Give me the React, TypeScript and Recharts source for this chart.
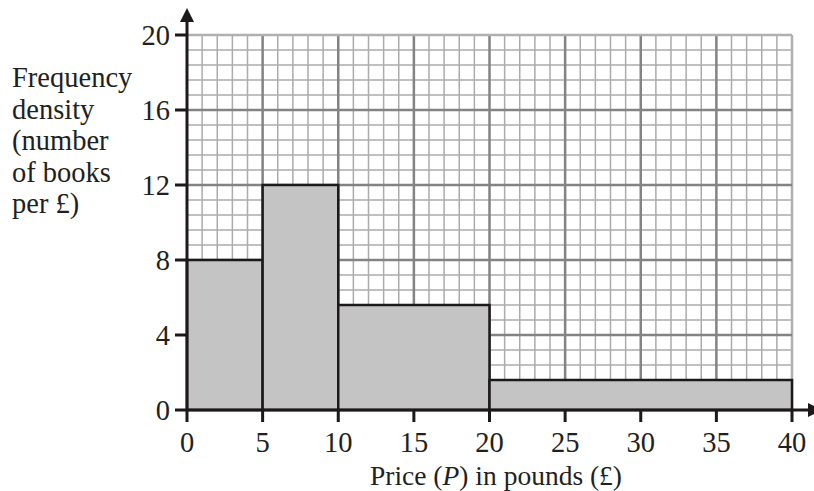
import React from 'react';
import {
  ComposedChart,
  XAxis,
  YAxis,
  Line,
  ReferenceLine,
  ReferenceArea,
  Label,
} from 'recharts';

// histogram classes: price (£) bands and their frequency density
const binStarts = [0, 5, 10, 20];
const binEnds = [5, 10, 20, 40];
const densities = [8, 12, 5.6, 1.6];

const xTicks = [0, 5, 10, 15, 20, 25, 30, 35, 40];
const yTicks = [0, 4, 8, 12, 16, 20];

const yLabelLines = ['Frequency', 'density', '(number', 'of books', 'per £)'];

// five small squares per big square
const xMinor = xTicks.slice(0, -1).flatMap((t) => [1, 2, 3, 4].map((k) => t + k));
const yMinor = yTicks.slice(0, -1).flatMap((t) => [1, 2, 3, 4].map((k) => t + k * 0.8));

const bins = binStarts.map((s, i) => ({
  start: s,
  end: binEnds[i],
  mid: (s + binEnds[i]) / 2,
  density: densities[i],
}));

const INK = '#1d1819';
const FONT = '"Liberation Serif", "Times New Roman", serif';
const FS = 28.5;

const YLabel = ({ viewBox }: any) => {
  const axisX = viewBox.x + viewBox.width;
  const top = viewBox.y;
  return (
    <g>
      <line x1={axisX} y1={top} x2={axisX} y2={20} stroke={INK} strokeWidth={3} />
      <path d={`M${axisX - 7},22 L${axisX + 7},22 L${axisX},8 Z`} fill={INK} />
      <text x={12} y={87} fontFamily={FONT} fontSize={FS} fill="#231f20">
        {yLabelLines.map((l, i) => (
          <tspan key={l} x={12} dy={i === 0 ? 0 : 31.5}>
            {l}
          </tspan>
        ))}
      </text>
    </g>
  );
};

const XLabel = ({ viewBox }: any) => {
  const axisY = viewBox.y;
  const right = viewBox.x + viewBox.width;
  return (
    <g>
      <line x1={right} y1={axisY} x2={810} y2={axisY} stroke={INK} strokeWidth={3} />
      <path d={`M808,${axisY - 7} L808,${axisY + 7} L822,${axisY} Z`} fill={INK} />
      <text x={496} y={485} textAnchor="middle" fontFamily={FONT} fontSize={27.5} fill="#231f20">
        Price (<tspan fontStyle="italic">P</tspan>) in pounds (£)
      </text>
    </g>
  );
};

const tickStyle = { fill: '#231f20', fontSize: FS, fontFamily: FONT };

export default function App() {
  return (
    <div style={{ position: 'absolute', left: 0, top: 0, background: '#fff' }}>
      <ComposedChart
        width={814}
        height={491}
        data={bins}
        margin={{ top: 35, right: 22, bottom: 0, left: 0 }}
      >
        <XAxis
          type="number"
          dataKey="mid"
          domain={[0, 40]}
          ticks={xTicks}
          interval={0}
          height={81}
          tickSize={12}
          tickMargin={10}
          tick={tickStyle}
          axisLine={{ stroke: INK, strokeWidth: 3 }}
          tickLine={{ stroke: INK, strokeWidth: 3 }}
        >
          <Label content={<XLabel />} />
        </XAxis>
        <YAxis
          type="number"
          domain={[0, 20]}
          ticks={yTicks}
          interval={0}
          width={187}
          tickSize={12}
          tickMargin={5}
          tick={tickStyle}
          axisLine={{ stroke: INK, strokeWidth: 3 }}
          tickLine={{ stroke: INK, strokeWidth: 3 }}
        >
          <Label content={<YLabel />} />
        </YAxis>

        {xMinor.map((x) => (
          <ReferenceLine key={`xm${x}`} x={x} stroke="#ababab" strokeWidth={1.5} zIndex={-50} />
        ))}
        {yMinor.map((y) => (
          <ReferenceLine key={`ym${y}`} y={y} stroke="#ababab" strokeWidth={1.5} zIndex={-50} />
        ))}
        {xTicks.slice(1).map((x) => (
          <ReferenceLine
            key={`xM${x}`}
            x={x}
            stroke={x === 40 ? '#b0b0b0' : '#838383'}
            strokeWidth={2.5}
            zIndex={-40}
          />
        ))}
        {yTicks.slice(1).map((y) => (
          <ReferenceLine
            key={`yM${y}`}
            y={y}
            stroke={y === 20 ? '#b0b0b0' : '#838383'}
            strokeWidth={2.5}
            zIndex={-40}
          />
        ))}

        {bins.map((b) => (
          <ReferenceArea
            key={`bar${b.start}`}
            x1={b.start}
            x2={b.end}
            y1={0}
            y2={b.density}
            fill="#c4c4c4"
            fillOpacity={1}
            stroke={INK}
            strokeWidth={2.5}
            zIndex={10}
          />
        ))}

        <Line
          dataKey="density"
          stroke="none"
          dot={false}
          activeDot={false}
          isAnimationActive={false}
        />
      </ComposedChart>
    </div>
  );
}
